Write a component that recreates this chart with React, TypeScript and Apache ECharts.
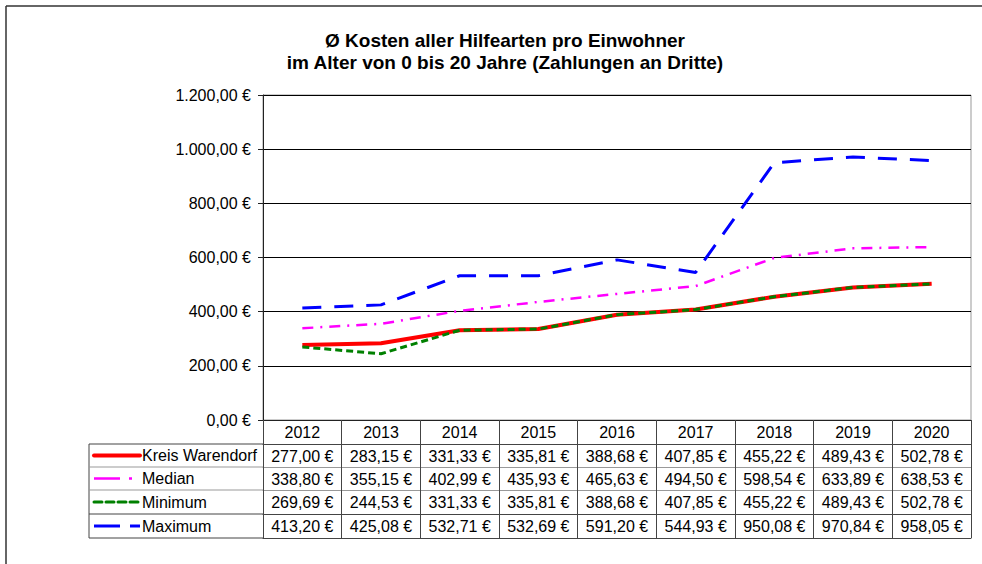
import React, { useEffect, useRef } from "react";
import * as echarts from "echarts";

const years = ["2012", "2013", "2014", "2015", "2016", "2017", "2018", "2019", "2020"];
const kreis = [277.0, 283.15, 331.33, 335.81, 388.68, 407.85, 455.22, 489.43, 502.78];
const median = [338.8, 355.15, 402.99, 435.93, 465.63, 494.5, 598.54, 633.89, 638.53];
const minimum = [269.69, 244.53, 331.33, 335.81, 388.68, 407.85, 455.22, 489.43, 502.78];
const maximum = [413.2, 425.08, 532.71, 532.69, 591.2, 544.93, 950.08, 970.84, 958.05];
const seriesNames = ["Kreis Warendorf", "Median", "Minimum", "Maximum"];
const yTicks = [0, 200, 400, 600, 800, 1000, 1200];

const FONT = "'Liberation Sans', Arial, sans-serif";

const fmt = (v: number) => {
  const [i, d] = v.toFixed(2).split(".");
  return i.replace(/\B(?=(\d{3})+(?!\d))/g, ".") + "," + d + " €";
};

const styles = [
  { color: "#ff0000", width: 4, type: "solid" as any },
  { color: "#ff00ff", width: 2.5, type: [11, 7, 2, 7] as any },
  { color: "#008000", width: 3, type: [7, 4] as any },
  { color: "#0000ff", width: 3, type: [19, 13] as any },
];

const GRID_L = 263, GRID_T = 95, GRID_R = 971, GRID_B = 420;
const rowLines = [444, 467, 490, 514, 538];
const TABLE_L = 89;

export default function App() {
  const ref = useRef<HTMLDivElement>(null);
  useEffect(() => {
    const chart = echarts.init(ref.current!, undefined, { renderer: "svg" });
    const dataSets = [kreis, median, minimum, maximum];

    const xAxes: any[] = [
      {
        type: "category",
        data: years,
        position: "bottom",
        boundaryGap: true,
        axisLine: { show: true, lineStyle: { color: "#222", width: 1 } },
        axisTick: { show: true, interval: 0, length: rowLines[4] - GRID_B, lineStyle: { color: "#444" } },
        axisLabel: { interval: 0, margin: 4, fontSize: 16, color: "#000", fontFamily: FONT },
        splitLine: { show: false },
      },
    ];
    dataSets.forEach((ds, k) => {
      xAxes.push({
        type: "category",
        data: ds.map(fmt),
        position: "bottom",
        offset: rowLines[k] - GRID_B,
        boundaryGap: true,
        axisLine: { show: true, lineStyle: { color: k === 0 || k === 3 ? "#444" : "#999", width: 1 } },
        axisTick: { show: false },
        axisLabel: { interval: 0, margin: 4, fontSize: 16, color: "#000", fontFamily: FONT },
        splitLine: { show: false },
      });
    });
    xAxes.push({
      type: "category",
      data: years,
      position: "bottom",
      offset: rowLines[4] - GRID_B,
      axisLine: { show: true, lineStyle: { color: "#444", width: 1 } },
      axisTick: { show: false },
      axisLabel: { show: false },
      splitLine: { show: false },
    });

    const graphics: any[] = [
      { type: "line", shape: { x1: 6, y1: 6, x2: 990, y2: 6 }, style: { stroke: "#333", lineWidth: 1.5 } },
      { type: "line", shape: { x1: 6, y1: 6, x2: 6, y2: 570 }, style: { stroke: "#333", lineWidth: 1.5 } },
      { type: "line", shape: { x1: TABLE_L, y1: rowLines[0], x2: TABLE_L, y2: rowLines[4] }, style: { stroke: "#444", lineWidth: 1 } },
    ];
    rowLines.forEach((y, k) => {
      graphics.push({
        type: "line",
        shape: { x1: TABLE_L, y1: y, x2: GRID_L, y2: y },
        style: { stroke: k === 0 || k === 4 || k === 3 ? "#444" : "#999", lineWidth: 1 },
      });
    });
    seriesNames.forEach((name, k) => {
      const yc = (rowLines[k] + rowLines[k + 1]) / 2;
      const st = styles[k];
      if (k === 1) {
        graphics.push({ type: "line", shape: { x1: 94, y1: yc, x2: 120, y2: yc }, style: { stroke: st.color, lineWidth: st.width } });
        graphics.push({ type: "line", shape: { x1: 129, y1: yc, x2: 132, y2: yc }, style: { stroke: st.color, lineWidth: st.width } });
      } else if (k === 3) {
        graphics.push({ type: "line", shape: { x1: 94, y1: yc, x2: 120, y2: yc }, style: { stroke: st.color, lineWidth: st.width } });
        graphics.push({ type: "line", shape: { x1: 130, y1: yc, x2: 140, y2: yc }, style: { stroke: st.color, lineWidth: st.width } });
      } else {
        graphics.push({
          type: "line",
          shape: { x1: 94, y1: yc, x2: 140, y2: yc },
          style: { stroke: st.color, lineWidth: st.width, lineDash: k === 2 ? [8, 4] : null, lineCap: "round" },
        });
      }
      graphics.push({
        type: "text",
        x: 142,
        y: yc,
        style: { text: name, font: `16px ${FONT}`, fill: "#000", textVerticalAlign: "middle", verticalAlign: "middle" },
      });
    });

    chart.setOption({
      animation: false,
      backgroundColor: "#fff",
      title: {
        text: "Ø Kosten aller Hilfearten pro Einwohner\nim Alter von 0 bis 20 Jahre (Zahlungen an Dritte)",
        left: 500,
        textAlign: "center",
        top: 24,
        textStyle: { fontFamily: FONT, fontSize: 19, fontWeight: "bold", color: "#000", lineHeight: 22 },
      },
      grid: {
        left: GRID_L,
        top: GRID_T,
        width: GRID_R - GRID_L,
        height: GRID_B - GRID_T,
        show: true,
        borderColor: "#999",
        borderWidth: 1,
        backgroundColor: "transparent",
      },
      xAxis: xAxes,
      yAxis: {
        type: "value",
        min: yTicks[0],
        max: yTicks[yTicks.length - 1],
        interval: 200,
        axisLine: { show: true, lineStyle: { color: "#222" } },
        axisTick: { show: true, length: 5, lineStyle: { color: "#222" } },
        axisLabel: { formatter: (v: number) => fmt(v), fontSize: 16, color: "#000", fontFamily: FONT, margin: 12 },
        splitLine: { show: true, lineStyle: { color: "#000", width: 1 } },
      },
      series: dataSets.map((ds, k) => ({
        type: "line",
        name: seriesNames[k],
        data: ds,
        xAxisIndex: 0,
        symbol: "none",
        lineStyle: { color: styles[k].color, width: styles[k].width, type: styles[k].type },
        z: 3 + k,
      })),
      graphic: graphics,
    });
    return () => chart.dispose();
  }, []);
  return <div ref={ref} style={{ position: "fixed", left: 0, top: 0, width: 982, height: 564 }} />;
}
